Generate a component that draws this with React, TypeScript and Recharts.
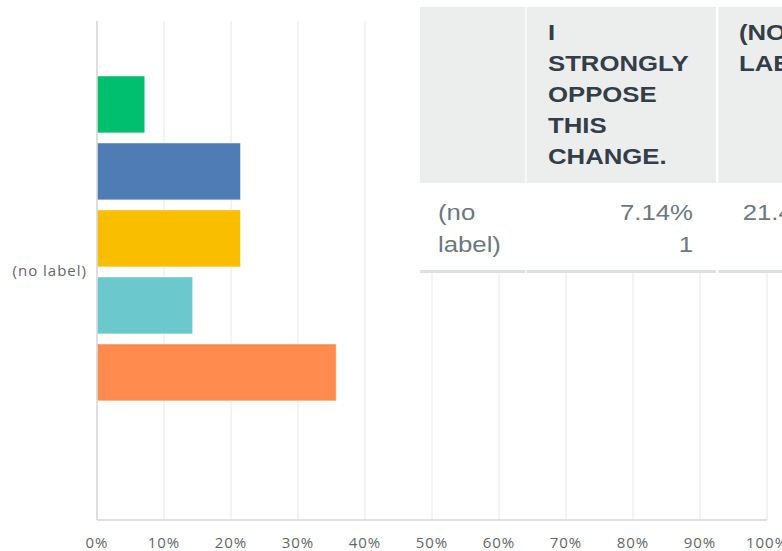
import { BarChart, Bar, XAxis, YAxis, CartesianGrid } from 'recharts'

const categories = ['(no label)']
const seriesNames = [
  'I strongly oppose this change.',
  '(no label)',
  'Series 3',
  'Series 4',
  'Series 5',
  'Series 6',
]
const seriesPercents = [7.14, 21.43, 21.43, 14.29, 35.71, 0]
const seriesCounts = [1, 3, 3, 2, 5, 0]
const seriesColors = ['#00bf6f', '#507cb6', '#f9be00', '#6bc8cd', '#ff8b4f', '#c7ccce']
const xTicks = [0, 10, 20, 30, 40, 50, 60, 70, 80, 90, 100]

const chartData = categories.map((name) => {
  const row: Record<string, string | number> = { name }
  seriesPercents.forEach((v, i) => {
    row[`s${i}`] = v
  })
  return row
})

const tickStyle = { fontSize: 15, fill: '#5f6769', fontFamily: '"Open Sans", sans-serif', letterSpacing: 1 }

// the table text in the picture is a little wider than plain Arial, so the table is stretched sideways
const S = 1.17
const colWidths = [105, 189, 135, 135]
const headerCell = (w: number): React.CSSProperties => ({
  width: w / S,
  minWidth: w / S,
  height: 176,
  background: '#eceeee',
  marginRight: 2 / S,
  boxSizing: 'border-box',
  padding: `10px ${21 / S}px 0 ${21 / S}px`,
  fontWeight: 700,
  textTransform: 'uppercase',
  lineHeight: '31px',
  color: '#333e48',
})
const bodyCell = (w: number, align: 'left' | 'right'): React.CSSProperties => ({
  width: w / S,
  minWidth: w / S,
  height: 90,
  marginRight: 2 / S,
  boxSizing: 'border-box',
  padding: align === 'left' ? `14px 0 0 ${18 / S}px` : `14px ${23 / S}px 0 0`,
  textAlign: align,
  lineHeight: '32px',
  color: '#6b787f',
  borderBottom: '3px solid #dde0e0',
})

function SummaryTable() {
  const shown = [0, 1, 2]
  return (
    <div
      style={{
        position: 'absolute',
        left: 420,
        top: 7,
        background: '#fff',
        fontFamily: '"Liberation Sans", Arial, sans-serif',
        fontSize: 22,
        transform: `scaleX(${S})`,
        transformOrigin: 'left top',
      }}
    >
      <div style={{ display: 'flex' }}>
        <div style={headerCell(colWidths[0])} />
        {shown.map((i) => (
          <div key={i} style={headerCell(colWidths[i + 1])}>
            {seriesNames[i]}
          </div>
        ))}
      </div>
      <div style={{ display: 'flex' }}>
        <div style={bodyCell(colWidths[0], 'left')}>{categories[0]}</div>
        {shown.map((i) => (
          <div key={i} style={bodyCell(colWidths[i + 1], 'right')}>
            {seriesPercents[i].toFixed(2)}%
            <br />
            {seriesCounts[i]}
          </div>
        ))}
      </div>
    </div>
  )
}

export default function App() {
  return (
    <div style={{ position: 'absolute', left: 0, top: 0, width: 782, height: 551, overflow: 'hidden', background: '#fff' }}>
      <BarChart
        width={782}
        height={551}
        data={chartData}
        layout="vertical"
        margin={{ top: 21, right: 15, bottom: 0, left: 0 }}
        barCategoryGap="11%"
        barGap={10}
      >
        <CartesianGrid horizontal={false} stroke="#e6e8e8" />
        <XAxis
          type="number"
          domain={[0, 100]}
          ticks={xTicks}
          tickFormatter={(v) => `${v}%`}
          height={31}
          tickSize={0}
          tickMargin={17}
          tick={tickStyle}
          axisLine={{ stroke: '#d4d7d8', strokeWidth: 1.5 }}
          interval={0}
        />
        <YAxis
          type="category"
          dataKey="name"
          width={97}
          tickSize={0}
          tickMargin={10}
          tick={tickStyle}
          axisLine={{ stroke: '#d4d7d8', strokeWidth: 1.5 }}
        />
        {seriesNames.map((n, i) => (
          <Bar
            key={n}
            dataKey={`s${i}`}
            name={n}
            fill={seriesColors[i]}
            stroke="#ffffff"
            strokeOpacity={0.6}
            isAnimationActive={false}
          />
        ))}
      </BarChart>
      <SummaryTable />
    </div>
  )
}
